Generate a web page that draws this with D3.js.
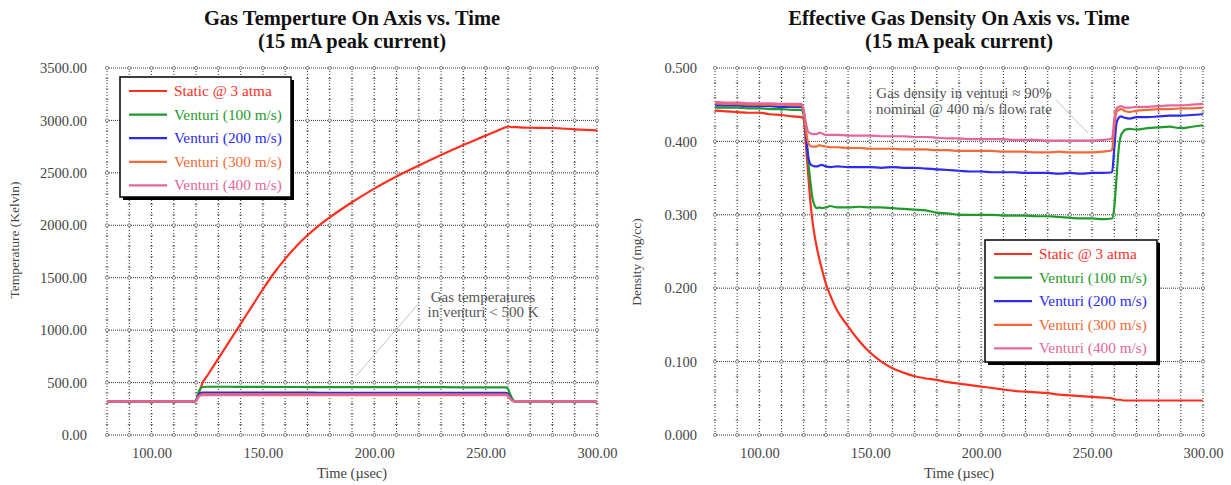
<!DOCTYPE html>
<html><head><meta charset="utf-8">
<script src="https://cdn.jsdelivr.net/npm/d3@7"></script>
<style>
body{margin:0;background:#fff}
svg{display:block}
text{font-family:"Liberation Serif","Times New Roman",serif}
</style>
</head><body>
<svg id="c" width="1231" height="485"></svg>
<script>
// ---------------- DATA ----------------
const seriesNames = ["Static @ 3 atma", "Venturi (100 m/s)", "Venturi (200 m/s)", "Venturi (300 m/s)", "Venturi (400 m/s)"];
const seriesColors = ["#ff2f1f", "#1f9a2c", "#2b2bf0", "#f26a35", "#e4679c"];
const timeTicks = [100, 150, 200, 250, 300];
const tempTicks = [0, 500, 1000, 1500, 2000, 2500, 3000, 3500];
const densTicks = [0, 0.1, 0.2, 0.3, 0.4, 0.5];

// Temperature (K) vs time (usec)
const tempTime   = [80,90,100,110,119,120,121,122,123,125,130,135,140,145,150,155,160,165,170,175,180,190,200,210,220,230,240,250,255,259,260,261,262,263,264,270,280,290,300];
const tempStatic = [320,320,320,320,320,325,385,445,500,565,730,895,1060,1225,1390,1545,1680,1800,1905,1995,2075,2220,2350,2465,2570,2670,2765,2855,2900,2935,2942,2940,2935,2938,2936,2930,2928,2915,2905];
const temp100    = [320,320,320,320,320,330,400,445,458,460,460,460,459,459,459,458,458,458,457,457,457,457,456,456,456,456,455,455,455,455,440,390,345,323,320,320,320,320,320];
const temp200    = [320,320,320,320,320,328,375,400,405,405,405,405,404,404,404,404,404,404,404,403,403,403,403,403,403,403,402,402,402,402,390,355,330,320,320,320,320,320,320];
const temp300    = [320,320,320,320,320,327,365,385,390,390,390,390,389,389,389,389,389,389,389,388,388,388,388,388,388,388,388,388,388,388,378,348,328,320,320,320,320,320,320];
const temp400    = [320,320,320,320,320,326,360,376,380,380,380,380,380,380,379,379,379,379,379,379,379,379,379,379,379,379,379,379,379,379,372,345,327,320,320,320,320,320,320];

// Density (mg/cc) vs time (usec)
const densTime   = [80,85,90,95,100,105,110,115,119,120,121,122,123,124,125,126,127,128,130,132,135,140,145,150,155,160,165,170,175,180,185,190,195,200,205,210,215,220,225,230,235,240,245,250,255,259,260,261,262,263,264,265,267,270,275,280,285,290,295,300];
const densStatic = [.442,.441,.440,.439,.439,.437,.436,.434,.433,.430,.395,.355,.318,.290,.270,.254,.240,.228,.206,.190,.170,.148,.128,.112,.100,.091,.085,.080,.077,.075,.072,.070,.068,.066,.064,.062,.060,.059,.058,.057,.055,.054,.053,.052,.051,.050,.049,.048,.048,.048,.047,.047,.047,.047,.047,.047,.047,.047,.047,.047];
const dens100    = [.446,.446,.446,.445,.445,.444,.444,.443,.443,.435,.410,.375,.345,.322,.312,.309,.310,.309,.310,.312,.310,.310,.311,.310,.310,.309,.308,.307,.306,.303,.302,.300,.300,.300,.300,.299,.299,.299,.298,.298,.297,.296,.295,.295,.294,.295,.310,.350,.390,.408,.413,.416,.417,.416,.418,.419,.420,.418,.420,.422];
const dens200    = [.449,.449,.449,.448,.448,.448,.447,.447,.447,.440,.410,.380,.369,.367,.366,.366,.367,.368,.366,.365,.366,.365,.365,.365,.364,.365,.364,.364,.363,.362,.361,.360,.359,.359,.358,.358,.358,.357,.357,.357,.356,.357,.356,.357,.357,.358,.390,.425,.432,.434,.433,.432,.431,.433,.433,.434,.435,.435,.436,.437];
const dens300    = [.452,.451,.451,.450,.450,.450,.450,.449,.449,.440,.415,.398,.394,.393,.393,.393,.395,.394,.393,.392,.392,.391,.391,.390,.390,.390,.389,.389,.389,.388,.388,.387,.387,.387,.387,.386,.386,.386,.385,.385,.386,.385,.385,.385,.386,.388,.420,.440,.443,.444,.443,.441,.440,.442,.443,.444,.444,.445,.445,.446];
const dens400    = [.454,.453,.453,.452,.452,.452,.451,.451,.451,.443,.425,.413,.411,.410,.410,.410,.412,.411,.409,.409,.409,.408,.408,.408,.407,.407,.407,.406,.406,.405,.404,.404,.403,.403,.403,.403,.402,.402,.402,.401,.401,.401,.401,.401,.402,.404,.430,.445,.447,.448,.447,.446,.446,.447,.447,.448,.449,.449,.450,.451];

// ---------------- DRAW ----------------
const svg = d3.select("#c");
const GRID = "#333";

function drawChart(cfg) {
  const x = d3.scaleLinear().domain([80, 300]).range([cfg.x0, cfg.x1]);
  const y = d3.scaleLinear().domain(cfg.yDomain).range([cfg.y1, cfg.y0]);
  const g = svg.append("g");

  // grid
  const vt = d3.range(80, 301, 10);
  g.selectAll(".vg").data(vt).enter().append("line")
    .attr("x1", d => x(d)).attr("x2", d => x(d))
    .attr("y1", cfg.y0).attr("y2", cfg.y1)
    .attr("stroke", GRID).attr("stroke-width", 1).attr("stroke-dasharray", "1,2");
  g.selectAll(".hg").data(cfg.yTicks).enter().append("line")
    .attr("x1", cfg.x0).attr("x2", cfg.x1)
    .attr("y1", d => y(d)).attr("y2", d => y(d))
    .attr("stroke", GRID).attr("stroke-width", 1).attr("stroke-dasharray", "1,1");
  // minor tick marks along vertical grid lines
  const minorY = d3.range(cfg.yDomain[0], cfg.yDomain[1] + cfg.minorStep / 2, cfg.minorStep);
  vt.forEach(t => {
    g.selectAll(null).data(minorY).enter().append("line")
      .attr("x1", x(t) - 1.5).attr("x2", x(t) + 1.5)
      .attr("y1", d => y(d)).attr("y2", d => y(d))
      .attr("stroke", "#666").attr("stroke-width", 0.8);
  });
  // circles at grid intersections
  cfg.yTicks.forEach(v => {
    g.selectAll(null).data(vt).enter().append("circle")
      .attr("cx", d => x(d)).attr("cy", y(v)).attr("r", 1.6)
      .attr("fill", "#fff").attr("stroke", "#666").attr("stroke-width", 0.8);
  });

  // axes labels
  const yAxis = d3.axisLeft(y).tickValues(cfg.yTicks).tickFormat(d3.format(cfg.yFmt)).tickSize(0).tickPadding(cfg.yPad);
  const ya = g.append("g").attr("transform", `translate(${cfg.x0},0)`).call(yAxis);
  ya.select(".domain").remove();
  ya.selectAll("text").attr("font-size", 14.5).attr("fill", "#444").attr("font-family", "Liberation Serif");
  const xAxis = d3.axisBottom(x).tickValues(timeTicks).tickFormat(d3.format(".2f")).tickSize(0).tickPadding(13);
  const xa = g.append("g").attr("transform", `translate(0,${cfg.y1})`).call(xAxis);
  xa.select(".domain").remove();
  xa.selectAll("text").attr("font-size", 14.5).attr("fill", "#444").attr("font-family", "Liberation Serif");

  g.append("text").attr("x", (cfg.x0 + cfg.x1) / 2).attr("y", 478).attr("text-anchor", "middle")
    .attr("font-size", 14.5).attr("fill", "#444").text("Time (\u00b5sec)");
  g.append("text").attr("transform", `translate(${cfg.yLabX},${cfg.yLabY}) rotate(-90)`).attr("text-anchor", "middle")
    .attr("font-size", 13.5).attr("fill", "#444").text(cfg.yLabel);

  // title
  g.append("text").attr("x", cfg.titleX).attr("y", 25).attr("text-anchor", "middle")
    .attr("font-size", 20.5).attr("font-weight", "bold").attr("fill", "#111").text(cfg.title1);
  g.append("text").attr("x", cfg.titleX).attr("y", 48).attr("text-anchor", "middle")
    .attr("font-size", 20.5).attr("font-weight", "bold").attr("fill", "#111").text("(15 mA peak current)");

  // annotation
  g.append("line").attr("x1", cfg.ann.lx1).attr("y1", cfg.ann.ly1).attr("x2", cfg.ann.lx2).attr("y2", cfg.ann.ly2)
    .attr("stroke", "#c4c4c4").attr("stroke-width", 1);
  cfg.ann.lines.forEach((s, i) => {
    g.append("text").attr("x", cfg.ann.x).attr("y", cfg.ann.y + i * cfg.ann.dy).attr("text-anchor", "middle")
      .attr("font-size", 15).attr("fill", "#555").text(s);
  });

  // lines
  const line = d3.line().curve(d3.curveMonotoneX).x(d => x(d[0])).y(d => y(d[1]));
  cfg.series.forEach((vals, i) => {
    g.append("path").datum(cfg.time.map((t, k) => [t, vals[k]]))
      .attr("d", line).attr("fill", "none").attr("stroke", seriesColors[i])
      .attr("stroke-width", 2.2).attr("stroke-linejoin", "round");
  });

  // legend
  const L = cfg.legend;
  g.append("rect").attr("x", L.x + 3).attr("y", L.y + 3).attr("width", L.w).attr("height", L.h).attr("fill", "#000");
  g.append("rect").attr("x", L.x).attr("y", L.y).attr("width", L.w).attr("height", L.h)
    .attr("fill", "#fff").attr("stroke", "#000").attr("stroke-width", 1.5);
  seriesNames.forEach((n, i) => {
    const yy = L.y + 14 + i * 23.6;
    g.append("line").attr("x1", L.x + 9).attr("x2", L.x + 47).attr("y1", yy).attr("y2", yy)
      .attr("stroke", seriesColors[i]).attr("stroke-width", 2.2);
    g.append("text").attr("x", L.x + 54).attr("y", yy + 5).attr("font-size", 15.3)
      .attr("fill", seriesColors[i]).text(n);
  });
}

drawChart({
  x0: 107, x1: 597, y0: 68, y1: 435, yDomain: [0, 3500], yTicks: tempTicks, yFmt: ".2f", yPad: 20, minorStep: 100,
  yLabel: "Temperature (Kelvin)", yLabX: 19, yLabY: 240, titleX: 352,
  title1: "Gas Temperture On Axis vs. Time",
  time: tempTime, series: [tempStatic, temp100, temp200, temp300, temp400],
  legend: { x: 120, y: 77, w: 171, h: 120 },
  ann: { x: 483, y: 302, dy: 15, lines: ["Gas temperatures", "in venturi < 500 K"], lx1: 420, ly1: 302, lx2: 356, ly2: 376 }
});
drawChart({
  x0: 715, x1: 1203, y0: 68, y1: 435, yDomain: [0, 0.5], yTicks: densTicks, yFmt: ".3f", yPad: 18, minorStep: 0.02,
  yLabel: "Density (mg/cc)", yLabX: 641, yLabY: 262, titleX: 959,
  title1: "Effective Gas Density On Axis vs. Time",
  time: densTime, series: [densStatic, dens100, dens200, dens300, dens400],
  legend: { x: 985, y: 240, w: 172, h: 122 },
  ann: { x: 964, y: 98, dy: 16, lines: ["Gas density in venturi \u2248 90%", "nominal @ 400 m/s flow rate"], lx1: 1056, ly1: 100, lx2: 1088, ly2: 133 }
});
</script>
</body></html>
